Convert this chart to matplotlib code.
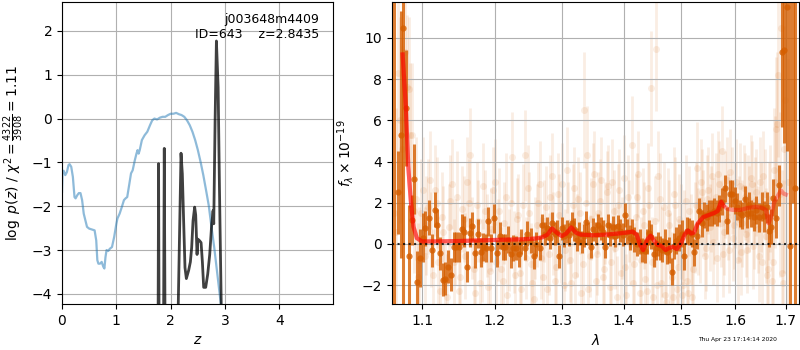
import matplotlib
matplotlib.use('Agg')
import matplotlib.pyplot as plt
from matplotlib.ticker import NullLocator

# --- left panel: redshift fit ---
chi_z = [0.0, 0.01, 0.03, 0.06, 0.09, 0.12, 0.14, 0.17, 0.2, 0.23, 0.25, 0.28, 0.31, 0.34, 0.37,
         0.40, 0.43, 0.46, 0.5, 0.55, 0.6, 0.63, 0.65, 0.67, 0.70, 0.73, 0.76, 0.78, 0.80, 0.82,
         0.85, 0.88, 0.92, 0.96, 1.0, 1.02, 1.06, 1.1, 1.14, 1.17, 1.2, 1.23, 1.27, 1.3, 1.34,
         1.37, 1.39, 1.41, 1.43, 1.47, 1.52, 1.57, 1.62, 1.66, 1.7, 1.75, 1.8, 1.85, 1.9, 1.95,
         2.0, 2.05, 2.1, 2.15, 2.2, 2.25, 2.3, 2.35, 2.4, 2.45, 2.5, 2.55, 2.6, 2.65, 2.7,
         2.75, 2.8, 2.85, 2.9, 2.95, 3.0]
chi_y = [-1.67, -1.22, -1.19, -1.29, -1.22, -1.06, -1.04, -1.10, -1.33, -1.79, -1.82, -1.75, -1.70,
         -1.70, -1.86, -2.17, -2.32, -2.47, -2.51, -2.53, -2.55, -2.78, -3.23, -3.31, -3.31, -3.27,
         -3.38, -3.42, -3.16, -3.0, -3.02, -2.97, -2.93, -2.70, -2.40, -2.28, -2.17, -2.02, -1.86,
         -1.82, -1.79, -1.56, -1.25, -1.18, -0.95, -0.80, -0.72, -0.80, -0.72, -0.49, -0.38, -0.30,
         -0.15, -0.04, 0.0, -0.02, 0.02, 0.04, 0.04, 0.08, 0.11, 0.11, 0.13, 0.10, 0.08, 0.04,
         -0.04, -0.15, -0.30, -0.49, -0.72, -0.99, -1.29, -1.63, -1.98, -2.47, -2.93, -3.46, -3.99,
         -4.52, -5.1]

pz_z = [1.74, 1.765, 1.777, 1.789, 1.83, 1.865, 1.882, 1.90, 1.95, 2.10, 2.128, 2.19, 2.214, 2.238,
        2.263, 2.288, 2.331, 2.362, 2.386, 2.411, 2.441, 2.46, 2.485, 2.50, 2.534, 2.559, 2.583,
        2.607, 2.644, 2.681, 2.718, 2.755, 2.78, 2.792, 2.817, 2.841, 2.873, 2.897, 2.928, 2.96]
pz_logp = [-9, -6, -1.03, -6, -9, -6, -0.68, -6, -9, -9, -5, -0.79, -1.26, -2.33, -3.4, -3.65,
           -3.46, -3.27, -2.94, -2.33, -2.02, -2.2, -3.1, -2.75, -2.79, -2.83, -3.27, -3.85, -3.85,
           -3.55, -3.1, -2.4, -2.1, -2.4, -0.05, 1.77, 0.71, -1.57, -4.1, -7]

# --- right panel: spectrum ---
bin_wave = [1.0635, 1.0689, 1.0724, 1.0757, 1.0789, 1.0832, 1.0864, 1.0894, 1.0938, 1.0973,
            1.1008, 1.1044, 1.1089, 1.1124, 1.1164, 1.1198, 1.1231, 1.1272, 1.1308, 1.1345,
            1.1380, 1.1421, 1.1458, 1.1495, 1.1531, 1.1568, 1.1605, 1.1651, 1.1674, 1.1725,
            1.1767, 1.1801, 1.1837, 1.1875, 1.1908, 1.1946, 1.1993, 1.2027, 1.2074, 1.2113,
            1.2150, 1.2193, 1.2228, 1.2266, 1.2305, 1.2353, 1.2388, 1.2436, 1.2475, 1.2534,
            1.2575, 1.2610, 1.2661, 1.2698, 1.2738, 1.2779, 1.2815, 1.2852, 1.2893, 1.2934,
            1.2961, 1.2997, 1.3039, 1.3081, 1.3118, 1.3155, 1.3197, 1.3234, 1.3271, 1.3313,
            1.3350, 1.3384, 1.3421, 1.3464, 1.3503, 1.3546, 1.3584, 1.3622, 1.3661, 1.3695,
            1.3739, 1.3778, 1.3818, 1.3862, 1.3901, 1.3940, 1.3985, 1.4029, 1.4063, 1.4104,
            1.4143, 1.4183, 1.4224, 1.4269, 1.4315, 1.4355, 1.4389, 1.4431, 1.4471, 1.4512,
            1.4547, 1.4589, 1.4630, 1.4665, 1.4706, 1.4741, 1.4784, 1.4831, 1.4873, 1.4914,
            1.4963, 1.5005, 1.5053, 1.5095, 1.5143, 1.5186, 1.5236, 1.5284, 1.5328, 1.5375,
            1.5420, 1.5463, 1.5512, 1.5556, 1.5607, 1.5651, 1.5701, 1.5745, 1.5797, 1.5846,
            1.5892, 1.5943, 1.5989, 1.6034, 1.6085, 1.6137, 1.6184, 1.6229, 1.6268, 1.6314,
            1.6361, 1.6412, 1.6460, 1.6512, 1.6560, 1.6612, 1.6652, 1.6700, 1.6747, 1.6803,
            1.6870, 1.6916, 1.6965, 1.7019, 1.7089, 1.7145, 1.7192]
bin_flux = [12.5, 2.5, 5.3, 10.5, 6.6, -0.6, 1.17, 3.15, -1.85, -0.7,
            0.3, 0.76, 1.26, -0.3, 1.65, 0.9, -0.45, -1.75, -1.7, -1.1,
            -1.5, -0.15, -0.15, -0.15, 0.7, 0.6, -1.1, 0.55, 0.85, -0.45,
            0.5, -0.4, -0.15, -0.2, 1.1, -0.2, 1.25, -0.45, 0.4, -0.15,
            -0.15, 0.2, -0.5, -0.2, -0.2, -0.5, 0.1, -0.2, 0.5, 0.15,
            -0.6, 0.0, -0.2, 0.9, 0.5, 0.75, 0.3, 1.0, 0.5, 0.6,
            -0.6, 0.75, 0.4, 0.6, 0.45, 1.0, 0.7, 0.2, 0.5, 0.1,
            0.4, 1.05, 0.5, -0.15, 0.7, 0.5, 0.9, 0.75, 0.6, -0.15,
            0.9, 0.45, 0.8, 0.4, 0.85, 0.65, 0.45, 1.4, 0.6, 0.3,
            0.6, 0.2, 0.0, 0.1, -0.3, -0.35, 0.1, 0.55, 0.35, -0.5,
            -0.2, 0.0, -0.2, -0.3, 0.1, -0.4, -0.3, -1.35, -0.1, 0.15,
            0.3, 0.5, -0.6, 0.65, 0.6, 0.5, -0.4, 0.4, 1.6, 1.0,
            1.4, 1.3, 1.5, 1.5, 1.6, 1.5, 1.73, 2.05, 2.7, 1.12,
            2.44, 2.44, 2.1, 1.81, 1.49, 1.38, 2.17, 1.44, 1.88, 1.49,
            1.33, 1.65, 1.3, 1.8, 1.35, 1.78, 0.65, 0.84, 2.25, 1.25,
            2.85, 9.3, 9.4, 11.5, -0.1, 14.0, 2.7]
bin_err = [18, 2.0, 6, 14, 2.8, 2.5, 1.2, 1.7, 1.5, 1.4,
           1.2, 0.85, 0.85, 0.8, 0.85, 0.8, 0.8, 0.8, 0.8, 0.8,
           0.8, 0.75, 0.75, 0.75, 0.75, 0.75, 0.75, 0.7, 0.7, 0.7,
           0.7, 0.7, 0.7, 0.7, 0.7, 0.7, 0.7, 0.65, 0.65, 0.65,
           0.65, 0.65, 0.65, 0.65, 0.6, 0.6, 0.6, 0.6, 0.6, 0.6,
           0.6, 0.6, 0.6, 0.55, 0.55, 0.55, 0.55, 0.55, 0.55, 0.55,
           0.55, 0.55, 0.55, 0.55, 0.55, 0.55, 0.55, 0.55, 0.55, 0.55,
           0.55, 0.55, 0.55, 0.55, 0.55, 0.55, 0.55, 0.55, 0.55, 0.55,
           0.55, 0.55, 0.55, 0.55, 0.55, 0.55, 0.55, 0.6, 0.6, 0.6,
           0.6, 0.6, 0.6, 0.6, 0.6, 0.6, 0.6, 0.6, 0.6, 0.6,
           0.6, 0.6, 0.6, 0.6, 0.6, 0.6, 0.65, 0.65, 0.65, 0.65,
           0.65, 0.65, 0.65, 0.65, 0.65, 0.65, 0.65, 0.65, 0.65, 0.65,
           0.65, 0.65, 0.65, 0.65, 0.65, 0.65, 0.65, 0.65, 0.65, 0.65,
           0.65, 0.65, 0.65, 0.65, 0.65, 0.65, 0.65, 0.65, 0.65, 0.65,
           0.7, 0.7, 0.7, 0.7, 0.75, 0.75, 0.8, 0.85, 0.9, 0.95,
           1.0, 3.6, 4.5, 7.0, 14.0, 12.0, 16.0]

faint_wave_a = [1.064, 1.0686, 1.0732, 1.0778, 1.0824, 1.087, 1.0916, 1.0962, 1.1008, 1.1054,
                1.11, 1.1146, 1.1192, 1.1238, 1.1284, 1.133, 1.1376, 1.1422, 1.1468, 1.1514,
                1.156, 1.1606, 1.1652, 1.1698, 1.1744, 1.179, 1.1836, 1.1882, 1.1928, 1.1974,
                1.202, 1.2066, 1.2112, 1.2158, 1.2204, 1.225, 1.2296, 1.2342, 1.2388, 1.2434,
                1.248, 1.2526, 1.2572, 1.2618, 1.2664, 1.271, 1.2756, 1.2802, 1.2848, 1.2894,
                1.294, 1.2986, 1.3032, 1.3078, 1.3124, 1.317, 1.3216, 1.3262, 1.3308, 1.3354,
                1.34, 1.3446, 1.3492, 1.3538, 1.3584, 1.363, 1.3676, 1.3722, 1.3768, 1.3814,
                1.386, 1.3906, 1.3952, 1.3998, 1.4044, 1.409, 1.4136, 1.4182, 1.4228, 1.4274,
                1.432, 1.4366, 1.4412, 1.4458, 1.4504, 1.455, 1.4596, 1.4642, 1.4688, 1.4734,
                1.478, 1.4826, 1.4872, 1.4918, 1.4964, 1.501, 1.5056, 1.5102, 1.5148, 1.5194,
                1.524, 1.5286, 1.5332, 1.5378, 1.5424, 1.547, 1.5516, 1.5562, 1.5608, 1.5654,
                1.57, 1.5746, 1.5792, 1.5838, 1.5884, 1.593, 1.5976, 1.6022, 1.6068, 1.6114,
                1.616, 1.6206, 1.6252, 1.6298, 1.6344, 1.639, 1.6436, 1.6482, 1.6528, 1.6574,
                1.662, 1.6666, 1.6712, 1.6758, 1.6804, 1.685, 1.6896, 1.6942, 1.6988, 1.7034]
faint_flux_a = [1.5, 8.3, 4.6, 9.3, 7.5, 5.3, 2.2, -0.8, 2.6, 0.9,
                3.1, -1.5, 2.0, -2.3, 0.6, -2.6, 2.1, -0.9, 2.3, -1.6,
                1.2, 3.0, 4.3, -1.2, 1.9, -1.9, 2.8, 0.4, -1.3, 2.6,
                -0.9, 1.6, -1.8, 2.3, -0.3, 4.2, -1.5, 1.4, -2.2, 4.3,
                2.7, -1.0, -2.7, 0.9, 2.9, -1.6, 1.8, -0.5, 3.3, -1.8,
                2.4, 0.1, -2.0, 3.6, -0.8, 1.9, -1.5, 2.2, -2.4, 6.5,
                4.3, -0.6, 2.9, -1.8, 1.5, 3.1, -1.2, 2.5, -2.1, 3.0,
                -0.2, 1.9, -1.4, 3.2, -2.5, 1.1, 4.8, -1.0, 2.3, -2.4,
                1.6, -1.7, 2.7, 7.55, -2.6, 9.45, 3.3, -1.9, 1.8, -2.8,
                0.9, -1.6, 2.4, -2.2, 1.2, -2.5, 0.4, -1.8, 1.6, -2.6,
                0.8, 3.7, 0.2, 2.5, -0.6, 2.2, 0.8, 3.3, 1.1, -0.7,
                2.9, 4.5, 0.6, 3.1, -0.3, 2.6, 0.9, 3.0, 1.2, -0.4,
                2.7, 0.5, 2.2, 3.2, -0.1, 2.1, 0.7, 3.0, -0.9, 2.4,
                -1.5, 1.6, -1.8, 3.6, 5.6, 8.2, 10.5, -1.9, 7.0, 3.0]
faint_err_a = [6, 4, 5, 4, 3.5, 3.5, 3, 2.6, 2.6, 2.4,
               2.4, 2.2, 2.2, 2.1, 2.2, 2.1, 2.2, 2.1, 2.2, 2.1,
               2.1, 2.2, 2.3, 2.1, 2.1, 2.1, 2.1, 2.0, 2.0, 2.1,
               2.0, 2.1, 2.0, 2.1, 2.0, 2.2, 2.0, 2.0, 2.0, 2.2,
               2.1, 2.0, 2.1, 2.0, 2.1, 2.0, 2.0, 2.0, 2.1, 2.0,
               2.0, 2.0, 2.0, 2.1, 2.0, 2.0, 2.0, 2.0, 2.0, 2.8,
               2.4, 2.0, 2.0, 2.0, 2.0, 2.1, 2.0, 2.0, 2.0, 2.1,
               2.0, 2.0, 2.0, 2.1, 2.0, 2.0, 2.4, 2.0, 2.1, 2.1,
               2.1, 2.1, 2.2, 2.8, 2.2, 3.0, 2.2, 2.2, 2.2, 2.3,
               2.2, 2.2, 2.3, 2.3, 2.2, 2.3, 2.2, 2.3, 2.2, 2.3,
               2.2, 2.2, 2.1, 2.1, 2.1, 2.1, 2.1, 2.1, 2.1, 2.1,
               2.1, 2.2, 2.1, 2.1, 2.1, 2.1, 2.1, 2.1, 2.1, 2.1,
               2.1, 2.1, 2.1, 2.1, 2.1, 2.1, 2.1, 2.2, 2.2, 2.2,
               2.3, 2.4, 2.6, 3, 3.5, 4, 4.5, 5, 5, 6]

faint_wave_b = [1.0663, 1.0709, 1.0755, 1.0801, 1.0847, 1.0893, 1.0939, 1.0985, 1.1031, 1.1077,
                1.1123, 1.1169, 1.1215, 1.1261, 1.1307, 1.1353, 1.1399, 1.1445, 1.1491, 1.1537,
                1.1583, 1.1629, 1.1675, 1.1721, 1.1767, 1.1813, 1.1859, 1.1905, 1.1951, 1.1997,
                1.2043, 1.2089, 1.2135, 1.2181, 1.2227, 1.2273, 1.2319, 1.2365, 1.2411, 1.2457,
                1.2503, 1.2549, 1.2595, 1.2641, 1.2687, 1.2733, 1.2779, 1.2825, 1.2871, 1.2917,
                1.2963, 1.3009, 1.3055, 1.3101, 1.3147, 1.3193, 1.3239, 1.3285, 1.3331, 1.3377,
                1.3423, 1.3469, 1.3515, 1.3561, 1.3607, 1.3653, 1.3699, 1.3745, 1.3791, 1.3837,
                1.3883, 1.3929, 1.3975, 1.4021, 1.4067, 1.4113, 1.4159, 1.4205, 1.4251, 1.4297,
                1.4343, 1.4389, 1.4435, 1.4481, 1.4527, 1.4573, 1.4619, 1.4665, 1.4711, 1.4757,
                1.4803, 1.4849, 1.4895, 1.4941, 1.4987, 1.5033, 1.5079, 1.5125, 1.5171, 1.5217,
                1.5263, 1.5309, 1.5355, 1.5401, 1.5447, 1.5493, 1.5539, 1.5585, 1.5631, 1.5677,
                1.5723, 1.5769, 1.5815, 1.5861, 1.5907, 1.5953, 1.5999, 1.6045, 1.6091, 1.6137,
                1.6183, 1.6229, 1.6275, 1.6321, 1.6367, 1.6413, 1.6459, 1.6505, 1.6551, 1.6597,
                1.6643, 1.6689, 1.6735, 1.6781, 1.6827, 1.6873, 1.6919, 1.6965]
faint_flux_b = [0.6, 6.0, 8.1, 7.6, 5.3, 1.6, -1.6, 1.5, -0.6, 1.8,
                0.2, 2.6, -0.9, 1.3, -1.9, 0.8, 2.9, 0.1, -2.3, 1.7,
                -0.6, 2.0, 0.3, -2.4, 1.1, -0.8, 1.6, -2.1, 0.7, 3.0,
                0.2, -1.2, 1.0, -2.5, 2.0, -0.4, 1.2, -1.4, 1.9, -0.7,
                1.5, -1.9, 0.3, 2.0, -0.7, 1.1, -2.2, 2.3, 0.5, -1.1,
                1.4, 2.9, -0.3, 1.0, -1.9, 2.7, 0.4, 1.5, -1.0, 2.0,
                -2.2, 1.2, 3.4, -0.5, 2.1, -1.6, 1.0, 2.8, -0.9, 1.6,
                -2.6, 2.6, 0.3, -1.1, 2.3, 0.0, -1.9, 1.3, 3.4, -0.8,
                0.9, -2.3, 1.9, -0.9, 1.1, -2.0, 2.2, -0.4, -2.5, 1.5,
                -0.8, -2.6, 1.9, -1.1, 0.6, -2.0, 2.1, -2.4, 0.2, -1.2,
                1.9, 0.6, 3.0, 1.5, -0.2, 2.6, 1.7, 0.1, 2.3, 3.4,
                1.0, -0.5, 2.4, 1.3, 3.5, 0.3, 1.9, -0.8, 2.8, 1.0,
                2.3, -0.3, 1.7, 2.9, 0.9, 2.5, -0.6, 1.8, 3.3, 0.4,
                -1.2, 2.2, -0.9, 3.0, 5.8, 2.4, -1.4, 4.6]
faint_err_b = [6, 5, 4, 3.5, 3.5, 3, 2.6, 2.6, 2.4, 2.3,
               2.3, 2.2, 2.2, 2.2, 2.1, 2.1, 2.2, 2.1, 2.1, 2.1,
               2.1, 2.1, 2.0, 2.1, 2.0, 2.0, 2.0, 2.0, 2.0, 2.1,
               2.0, 2.0, 2.0, 2.1, 2.0, 2.0, 2.0, 2.0, 2.0, 2.0,
               2.0, 2.0, 2.0, 2.0, 2.0, 2.0, 2.0, 2.0, 2.0, 2.0,
               2.0, 2.0, 2.0, 2.0, 2.0, 2.0, 2.0, 2.0, 2.0, 2.0,
               2.0, 2.0, 2.1, 2.0, 2.0, 2.0, 2.0, 2.0, 2.0, 2.0,
               2.0, 2.0, 2.0, 2.0, 2.0, 2.0, 2.1, 2.1, 2.1, 2.1,
               2.1, 2.1, 2.1, 2.2, 2.2, 2.2, 2.2, 2.2, 2.2, 2.2,
               2.3, 2.3, 2.3, 2.3, 2.3, 2.3, 2.2, 2.3, 2.2, 2.2,
               2.1, 2.1, 2.1, 2.1, 2.1, 2.1, 2.1, 2.1, 2.1, 2.1,
               2.1, 2.1, 2.1, 2.1, 2.1, 2.1, 2.1, 2.1, 2.1, 2.1,
               2.1, 2.1, 2.1, 2.1, 2.1, 2.1, 2.2, 2.2, 2.2, 2.3,
               2.4, 2.6, 2.8, 3.2, 3.5, 4, 5, 6]

model_wave = [1.0746, 1.0789, 1.0819, 1.0851, 1.0886, 1.0930, 1.0996, 1.12, 1.15, 1.18,
              1.21, 1.24, 1.26, 1.27, 1.278, 1.285, 1.292, 1.30, 1.307, 1.315,
              1.322, 1.33, 1.35, 1.37, 1.39, 1.405, 1.415, 1.422, 1.428, 1.433,
              1.44, 1.446, 1.452, 1.458, 1.465, 1.472, 1.478, 1.485, 1.492, 1.50,
              1.506, 1.512, 1.518, 1.523, 1.53, 1.54, 1.55, 1.56, 1.567, 1.573,
              1.578, 1.585, 1.595, 1.61, 1.625, 1.64, 1.652, 1.660, 1.665, 1.670,
              1.676, 1.683, 1.690, 1.695, 1.700]
model_flux = [9.2, 6.5, 3.75, 2.1, 0.84, 0.28, 0.12, 0.12, 0.14, 0.17,
              0.2, 0.22, 0.26, 0.32, 0.45, 0.75, 0.55, 0.38, 0.5, 0.8,
              0.55, 0.45, 0.42, 0.45, 0.5, 0.55, 0.6, 0.45, -0.05, -0.3,
              0.2, 0.4, 0.15, -0.05, -0.1, -0.3, -0.2, -0.15, -0.25, 0.05,
              0.45, 0.65, 0.5, 0.55, 1.0, 1.3, 1.4, 1.5, 1.6, 2.05,
              1.85, 1.7, 1.65, 1.65, 1.75, 1.8, 1.75, 1.65, 1.0, 1.3,
              2.0, 2.3, 2.6, 2.45, 2.4]

wave_ticks = [1.1, 1.2, 1.3, 1.4, 1.5, 1.6, 1.7]
g141 = (0.8353, 0.3686, 0.0)

fig = plt.figure(figsize=(8, 3.5), dpi=100)

ax1 = fig.add_axes([0.0775, 0.1314, 0.339, 0.863])
ax1.plot(chi_z, chi_y, color='tab:blue', alpha=0.5, lw=1.6)
ax1.plot(pz_z, pz_logp, color='k', alpha=0.75, lw=2)
ax1.set_xlim(0, 4.99)
ax1.set_ylim(-4.23, 2.66)
ax1.set_xticks([0, 1, 2, 3, 4])
ax1.set_yticks([-4, -3, -2, -1, 0, 1, 2])
ax1.grid()
ax1.set_xlabel('$z$')
ax1.set_ylabel(r'$\log\ p(z)$ / $\chi^2=\frac{4322}{3908}=1.11$')
ax1.text(0.95, 0.965, 'j003648m4409\nID=643    z=2.8435', ha='right', va='top',
         transform=ax1.transAxes, fontsize=9)

ax2 = fig.add_axes([0.49, 0.1314, 0.50875, 0.863])
ax2.set_xscale('log')
ax2.errorbar(faint_wave_a, faint_flux_a, faint_err_a, fmt='o', color=g141, alpha=0.11,
             ms=5, elinewidth=2, capsize=0, mew=0, zorder=1)
ax2.errorbar(faint_wave_b, faint_flux_b, faint_err_b, fmt='o', color=g141, alpha=0.11,
             ms=5, elinewidth=2, capsize=0, mew=0, zorder=1)
ax2.errorbar(bin_wave, bin_flux, bin_err, fmt='o', color=g141, alpha=0.8,
             ms=4.5, elinewidth=2.2, capsize=0, mew=0, zorder=2)
ax2.plot(model_wave, model_flux, color='r', alpha=0.35, lw=3, zorder=3)
n_strong = model_wave.index(1.578) + 1
ax2.plot(model_wave[:n_strong], model_flux[:n_strong], color='r', alpha=0.45, lw=3, zorder=3)
ax2.axhline(0, color='k', ls=':', lw=1.5, alpha=0.8, zorder=4)
ax2.set_xlim(1.061, 1.727)
ax2.set_ylim(-2.92, 11.75)
ax2.set_xticks(wave_ticks)
ax2.set_xticklabels([str(w) for w in wave_ticks])
ax2.xaxis.set_minor_locator(NullLocator())
ax2.set_yticks([-2, 0, 2, 4, 6, 8, 10])
ax2.grid()
ax2.set_xlabel(r'$\lambda$')
ax2.set_ylabel(r'$f_\lambda\times10^{-19}$')

fig.text(0.971, 0.03, 'Thu Apr 23 17:14:14 2020', ha='right', va='center', fontsize=4.3)

fig.savefig('out.png', dpi=100)
